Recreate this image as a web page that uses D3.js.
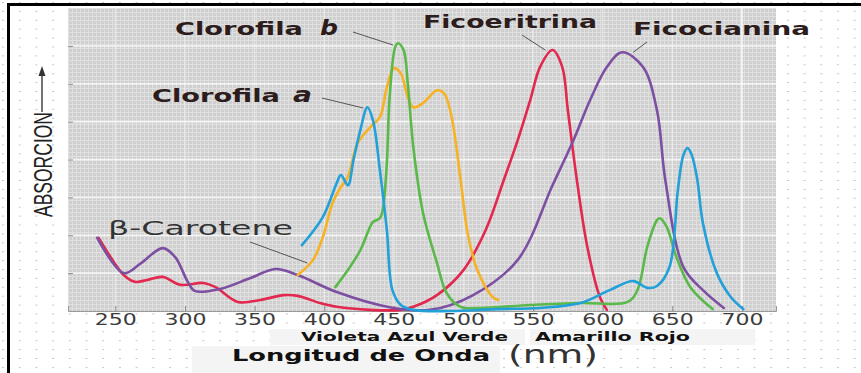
<!DOCTYPE html>
<html>
<head>
<meta charset="utf-8">
<script src="https://cdn.jsdelivr.net/npm/d3@7"></script>
<style>
  body { margin: 0; background: #fff; }
  svg { display: block; }
</style>
</head>
<body>
<div id="chart"></div>
<script>
// wavelength (nm) and relative absorbance
const xTicks = [250, 300, 350, 400, 450, 500, 550, 600, 650, 700];
const yTicks = [1, 2, 3, 4, 5, 6, 7];

const ficoeritrinaWl  = [238, 249, 256, 264, 273, 284, 297, 313, 322, 338, 354, 371, 381, 397, 409, 433, 455, 464, 481, 500, 516, 529, 539, 548, 555, 564, 571, 575, 582, 589, 598, 603];
const ficoeritrinaAbs = [1.93, 1.29, 0.95, 0.77, 0.82, 0.90, 0.69, 0.74, 0.63, 0.24, 0.29, 0.42, 0.40, 0.21, 0.11, 0.03, 0.03, 0.11, 0.42, 1.08, 2.14, 3.46, 4.51, 5.57, 6.44, 6.89, 6.44, 5.30, 3.32, 1.69, 0.37, 0.03];

const ficocianinaWl  = [237, 256, 268, 284, 293, 302, 307, 325, 347, 365, 381, 409, 447, 476, 507, 539, 564, 579, 591, 603, 614, 629, 639, 645, 658, 672, 687];
const ficocianinaAbs = [1.93, 1.00, 1.25, 1.66, 1.42, 0.77, 0.53, 0.58, 0.87, 1.11, 0.95, 0.50, 0.10, 0.03, 0.42, 1.35, 3.32, 4.51, 5.57, 6.44, 6.83, 6.44, 5.30, 3.46, 1.16, 0.55, 0.08];

const carotenoWl  = [381, 392, 399, 406, 412, 417, 424, 433, 440, 445, 450, 455, 460, 464, 471, 481, 486, 491, 498, 503, 510, 521, 525];
const carotenoAbs = [0.95, 1.35, 1.95, 2.85, 3.27, 3.54, 4.43, 4.85, 5.12, 5.91, 6.41, 6.28, 5.65, 5.38, 5.49, 5.83, 5.75, 5.22, 3.46, 2.06, 1.08, 0.37, 0.29];

const clorofilaBWl  = [408, 417, 426, 432, 435, 440, 442, 445, 447, 451, 453, 457, 460, 464, 471, 481, 488, 498, 512, 548, 584, 618, 625, 632, 639, 641, 646, 653, 663, 679];
const clorofilaBAbs = [0.63, 1.08, 1.61, 2.14, 2.35, 2.45, 2.66, 3.90, 5.65, 6.97, 7.07, 6.89, 6.02, 4.33, 2.59, 1.27, 0.47, 0.11, 0.08, 0.16, 0.21, 0.24, 0.55, 1.69, 2.40, 2.45, 2.22, 1.42, 0.63, 0.05];

const clorofilaAWl  = [384, 399, 409, 412, 417, 421, 426, 431, 435, 440, 445, 449, 455, 464, 491, 524, 555, 584, 605, 622, 632, 639, 648, 654, 658, 661, 664, 668, 672, 682, 692, 701];
const clorofilaAAbs = [1.74, 2.48, 3.38, 3.59, 3.32, 3.98, 4.78, 5.38, 5.04, 3.72, 2.14, 0.55, 0.16, 0.03, 0.00, 0.05, 0.08, 0.21, 0.55, 0.79, 0.61, 0.66, 1.16, 3.19, 4.12, 4.30, 4.12, 3.46, 2.32, 1.00, 0.37, 0.05];

const series = [
  { name: "Ficoeritrina", wl: ficoeritrinaWl, abs: ficoeritrinaAbs, color: "#e2284e" },
  { name: "Ficocianina", wl: ficocianinaWl, abs: ficocianinaAbs, color: "#7d4fa2" },
  { name: "β-Carotene", wl: carotenoWl, abs: carotenoAbs, color: "#f7b224" },
  { name: "Clorofila b", wl: clorofilaBWl, abs: clorofilaBAbs, color: "#5bb84b" },
  { name: "Clorofila a", wl: clorofilaAWl, abs: clorofilaAAbs, color: "#22a0d9" }
];

const width = 861;
const height = 373;
const plot = { left: 68, right: 776, top: 8, bottom: 311 };

const svg = d3.select("#chart")
  .append("svg")
  .attr("width", width)
  .attr("height", height);

const defs = svg.append("defs");

// dotted paper behind everything
const dots = defs.append("pattern")
  .attr("id", "dots")
  .attr("patternUnits", "userSpaceOnUse")
  .attr("width", 16.7)
  .attr("height", 8.9)
  .attr("x", 2)
  .attr("y", 2);
dots.append("rect").attr("width", 2).attr("height", 1).attr("fill", "#c6c6c6");

// grey cross-hatched plot texture
const tex = defs.append("pattern")
  .attr("id", "tex")
  .attr("patternUnits", "userSpaceOnUse")
  .attr("width", 4)
  .attr("height", 4);
tex.append("rect").attr("width", 4).attr("height", 4).attr("fill", "#cfcfcf");
tex.append("path").attr("d", "M0,0.5H4M0.5,0V4").attr("stroke", "#e0e0e0").attr("stroke-width", 1);

svg.append("rect").attr("width", width).attr("height", height).attr("fill", "#fff");
svg.append("rect").attr("width", width).attr("height", height).attr("fill", "url(#dots)");

// Scales
const x = d3.scaleLinear().domain([216, 724.5]).range([plot.left, plot.right]);
const y = d3.scaleLinear().domain([0, 8]).range([plot.bottom, plot.top]);

svg.append("rect")
  .attr("x", plot.left)
  .attr("y", plot.top)
  .attr("width", plot.right - plot.left)
  .attr("height", plot.bottom - plot.top)
  .attr("fill", "url(#tex)");

// faint white grid
svg.append("g").selectAll("line")
  .data(yTicks)
  .join("line")
  .attr("x1", plot.left).attr("x2", plot.right)
  .attr("y1", d => y(d)).attr("y2", d => y(d))
  .attr("stroke", "#fff").attr("stroke-opacity", 0.75).attr("stroke-width", 1.5);

svg.append("g").selectAll("line")
  .data(xTicks)
  .join("line")
  .attr("x1", d => x(d)).attr("x2", d => x(d))
  .attr("y1", plot.top).attr("y2", plot.bottom)
  .attr("stroke", "#fff").attr("stroke-opacity", d => d === 700 ? 0.9 : 0.35).attr("stroke-width", 1.5);

// label boxes under the axis
const boxes = [
  [270, 329, 255, 16],
  [530, 329, 225, 16],
  [192, 346, 308, 27]
];
svg.append("g").selectAll("rect")
  .data(boxes)
  .join("rect")
  .attr("x", d => d[0]).attr("y", d => d[1])
  .attr("width", d => d[2]).attr("height", d => d[3])
  .attr("fill", "#f4f4f4");

// Axes
const xAxis = svg.append("g")
  .attr("transform", `translate(0,${plot.bottom})`)
  .call(d3.axisBottom(x).tickValues(xTicks).tickSize(-5).tickPadding(4));
xAxis.select(".domain").attr("stroke", "#9a9a9a");
xAxis.selectAll(".tick line").attr("stroke", "#888");
xAxis.selectAll(".tick text")
  .attr("y", 14)
  .attr("dy", null)
  .attr("font-family", "DejaVu Sans, sans-serif")
  .attr("font-size", 15)
  .attr("fill", "#3c3c3c")
  .attr("textLength", 42)
  .attr("lengthAdjust", "spacingAndGlyphs");

const yAxis = svg.append("g")
  .attr("transform", `translate(${plot.left},0)`)
  .call(d3.axisLeft(y).tickValues(yTicks).tickSize(-5).tickFormat(""));
yAxis.select(".domain").remove();
yAxis.selectAll(".tick line").attr("stroke", "#8a8a8a");

// Curves
const line = d3.line()
  .x(d => x(d[0]))
  .y(d => y(d[1]))
  .curve(d3.curveCatmullRom.alpha(0.5));

svg.append("g").selectAll("path")
  .data(series)
  .join("path")
  .attr("d", s => line(s.wl.map((w, i) => [w, s.abs[i]])))
  .attr("fill", "none")
  .attr("stroke", s => s.color)
  .attr("stroke-width", 2.6)
  .attr("stroke-linejoin", "round")
  .attr("stroke-linecap", "round");

// Annotations: label position in px, leader end on the curve in data units
const notes = [
  { from: [353, 32], to: [449.6, 7.02] },
  { from: [322, 98], to: [428, 5.36] },
  { from: [522, 35], to: [558.7, 6.89] },
  { from: [647, 42], to: [621.9, 6.83] },
  { from: [250, 242], to: [387.8, 1.27] }
];
svg.append("g").selectAll("line")
  .data(notes)
  .join("line")
  .attr("x1", d => d.from[0]).attr("y1", d => d.from[1])
  .attr("x2", d => x(d.to[0])).attr("y2", d => y(d.to[1]))
  .attr("stroke", "#555")
  .attr("stroke-width", 1);

function label(txt, px, py, size, opts = {}) {
  const t = svg.append("text")
    .attr("x", px)
    .attr("y", py)
    .attr("font-family", opts.family || "DejaVu Sans, sans-serif")
    .attr("font-size", size)
    .attr("font-weight", opts.weight || "bold")
    .attr("font-style", opts.style || "normal")
    .attr("fill", opts.fill || "#2d1c1c")
    .text(txt);
  if (opts.len) t.attr("textLength", opts.len).attr("lengthAdjust", "spacingAndGlyphs");
  return t;
}

label("Clorofila", 175, 35, 17, { len: 128 });
label("b", 320, 35, 21, { style: "italic", len: 18 });
label("Clorofila", 152, 102, 17, { len: 128 });
label("a", 293, 102, 21, { style: "italic", len: 19 });
label("Ficoeritrina", 423, 28, 17, { len: 174 });
label("Ficocianina", 633, 35, 17, { len: 177 });
label("β-Carotene", 108, 235, 19, { weight: "normal", fill: "#333", len: 185 });

label("Violeta Azul Verde", 301, 341, 12.5, { fill: "#111", len: 207 });
label("Amarillo Rojo", 535, 341, 12.5, { fill: "#111", len: 155 });
label("Longitud de Onda", 232, 361, 16, { fill: "#111", len: 258 });
label("(nm)", 508, 363, 24, { weight: "normal", fill: "#333", len: 90 });

// y label with arrow
svg.append("text")
  .attr("transform", "translate(52,217) rotate(-90)")
  .attr("font-family", "Liberation Sans Narrow, Liberation Sans, sans-serif")
  .attr("font-size", 25)
  .attr("fill", "#222")
  .attr("textLength", 105)
  .attr("lengthAdjust", "spacingAndGlyphs")
  .text("ABSORCION");

svg.append("line")
  .attr("x1", 42).attr("x2", 42)
  .attr("y1", 112).attr("y2", 74)
  .attr("stroke", "#444").attr("stroke-width", 1.5);
svg.append("path")
  .attr("d", "M42,66L38.5,76L45.5,76Z")
  .attr("fill", "#333");

// frame
svg.append("line")
  .attr("x1", 8).attr("x2", width)
  .attr("y1", 4.5).attr("y2", 4.5)
  .attr("stroke", "#000").attr("stroke-width", 3);
svg.append("line")
  .attr("x1", 8.5).attr("x2", 8.5)
  .attr("y1", 3).attr("y2", height)
  .attr("stroke", "#000").attr("stroke-width", 3);
</script>
</body>
</html>
